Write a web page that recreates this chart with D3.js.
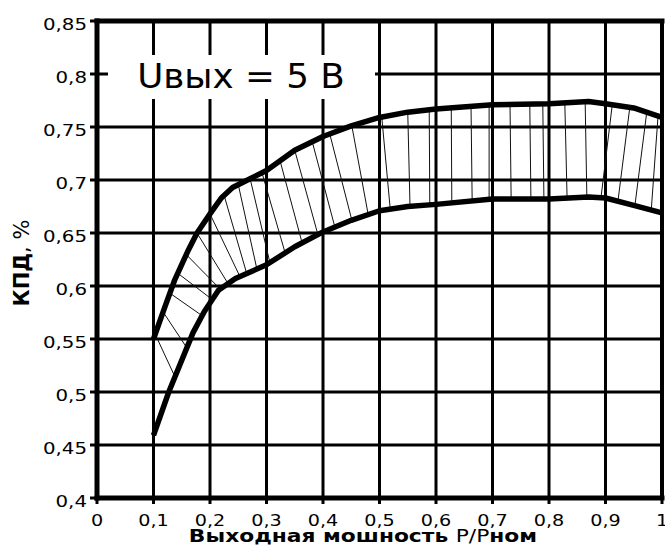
<!DOCTYPE html>
<html>
<head>
<meta charset="utf-8">
<script src="https://cdn.jsdelivr.net/npm/d3@7"></script>
<style>
  body { margin: 0; background: #fff; }
  text { font-family: "DejaVu Sans", Verdana, sans-serif; fill: #000; }
</style>
</head>
<body>
<div id="chart"></div>
<script>
// axis ticks and their labels
const xTicks = [0, 0.1, 0.2, 0.3, 0.4, 0.5, 0.6, 0.7, 0.8, 0.9, 1];
const xTickLabels = ["0", "0,1", "0,2", "0,3", "0,4", "0,5", "0,6", "0,7", "0,8", "0,9", "1"];
const yTicks = [0.4, 0.45, 0.5, 0.55, 0.6, 0.65, 0.7, 0.75, 0.8, 0.85];
const yTickLabels = ["0,4", "0,45", "0,5", "0,55", "0,6", "0,65", "0,7", "0,75", "0,8", "0,85"];

// upper and lower efficiency bounds, [P/Pном, КПД]
const upperCurve = [
  [0.1, 0.55], [0.12, 0.58], [0.137, 0.605], [0.16, 0.632], [0.177, 0.65],
  [0.2, 0.668], [0.22, 0.683], [0.24, 0.693], [0.27, 0.701], [0.3, 0.709],
  [0.35, 0.728], [0.4, 0.741], [0.45, 0.751], [0.5, 0.759], [0.55, 0.764],
  [0.6, 0.767], [0.7, 0.771], [0.8, 0.772], [0.87, 0.774], [0.9, 0.772],
  [0.95, 0.768], [1.0, 0.759]
];
const lowerCurve = [
  [0.1, 0.459], [0.127, 0.5], [0.17, 0.556], [0.19, 0.576], [0.215, 0.596],
  [0.245, 0.607], [0.3, 0.62], [0.35, 0.637], [0.4, 0.651], [0.45, 0.662],
  [0.5, 0.671], [0.55, 0.675], [0.6, 0.677], [0.7, 0.682], [0.8, 0.682],
  [0.87, 0.684], [0.9, 0.683], [0.95, 0.676], [1.0, 0.669]
];

// hatching between the bounds: x on upper curve -> x on lower curve
const hatchTop = [0.103, 0.117, 0.129, 0.143, 0.158, 0.177, 0.2, 0.225, 0.25, 0.271,
  0.292, 0.324, 0.35, 0.381, 0.412, 0.451, 0.504, 0.55, 0.588, 0.627, 0.662,
  0.694, 0.731, 0.766, 0.789, 0.828, 0.864, 0.912, 0.943, 0.973, 0.993];
const hatchBottom = [0.138, 0.159, 0.186, 0.204, 0.218, 0.232, 0.253, 0.265, 0.283, 0.306,
  0.333, 0.363, 0.391, 0.421, 0.451, 0.48, 0.519, 0.554, 0.589, 0.628, 0.664,
  0.694, 0.733, 0.768, 0.791, 0.832, 0.867, 0.892, 0.922, 0.952, 0.981];

const width = 665, height = 546;

const x = d3.scaleLinear().domain([0, 1]).range([97, 662]);
const y = d3.scaleLinear().domain([0.4, 0.85]).range([498, 21]);

const svg = d3.select("#chart")
  .append("svg")
  .attr("width", width)
  .attr("height", height);

// grid
svg.append("g")
  .selectAll("line")
  .data(xTicks.slice(1, -1))
  .join("line")
  .attr("x1", d => x(d)).attr("x2", d => x(d))
  .attr("y1", y(0.4)).attr("y2", y(0.85))
  .attr("stroke", "#000").attr("stroke-width", 3);

svg.append("g")
  .selectAll("line")
  .data(yTicks.slice(1, -1))
  .join("line")
  .attr("x1", x(0)).attr("x2", x(1))
  .attr("y1", d => y(d)).attr("y2", d => y(d))
  .attr("stroke", "#000").attr("stroke-width", 3);

// value of a curve at some x (straight segments between read points)
function valueAt(curve, xv) {
  const i = Math.max(1, Math.min(curve.length - 1, d3.bisector(d => d[0]).left(curve, xv)));
  const a = curve[i - 1], b = curve[i];
  return a[1] + (b[1] - a[1]) * (xv - a[0]) / (b[0] - a[0]);
}

// hatching
svg.append("g")
  .selectAll("line")
  .data(d3.range(hatchTop.length))
  .join("line")
  .attr("x1", i => x(hatchTop[i]))
  .attr("y1", i => y(valueAt(upperCurve, hatchTop[i])))
  .attr("x2", i => x(hatchBottom[i]))
  .attr("y2", i => y(valueAt(lowerCurve, hatchBottom[i])))
  .attr("stroke", "#111").attr("stroke-width", 1);

// curves
const line = d3.line().x(d => x(d[0])).y(d => y(d[1]));

[upperCurve, lowerCurve].forEach(c => {
  svg.append("path")
    .datum(c)
    .attr("fill", "none")
    .attr("stroke", "#000")
    .attr("stroke-width", 5.5)
    .attr("stroke-linejoin", "round")
    .attr("d", line);
});

// label box
svg.append("rect")
  .attr("x", 108).attr("y", 55)
  .attr("width", 267).attr("height", 44)
  .attr("fill", "#fff");

svg.append("text")
  .attr("transform", "translate(241,88) scale(1.05,1)")
  .attr("text-anchor", "middle")
  .attr("font-size", "34px")
  .text("Uвых = 5 В");

// frame
const frame = svg.append("g")
  .attr("stroke", "#000")
  .attr("stroke-linecap", "square");
frame.append("line").attr("x1", x(0)).attr("x2", x(1)).attr("y1", y(0.85)).attr("y2", y(0.85)).attr("stroke-width", 5);
frame.append("line").attr("x1", x(1)).attr("x2", x(1)).attr("y1", y(0.85)).attr("y2", y(0.4)).attr("stroke-width", 4);
frame.append("line").attr("x1", x(0)).attr("x2", x(0)).attr("y1", y(0.85)).attr("y2", y(0.4)).attr("stroke-width", 5);
frame.append("line").attr("x1", x(0)).attr("x2", x(1)).attr("y1", y(0.4)).attr("y2", y(0.4)).attr("stroke-width", 5);

// ticks
svg.append("g")
  .selectAll("line")
  .data(yTicks)
  .join("line")
  .attr("x1", x(0) - 7).attr("x2", x(0))
  .attr("y1", d => y(d)).attr("y2", d => y(d))
  .attr("stroke", "#000").attr("stroke-width", 3);

svg.append("g")
  .selectAll("line")
  .data(xTicks)
  .join("line")
  .attr("x1", d => x(d)).attr("x2", d => x(d))
  .attr("y1", y(0.4)).attr("y2", y(0.4) + 6)
  .attr("stroke", "#000").attr("stroke-width", 3);

// tick labels
svg.append("g")
  .selectAll("text")
  .data(yTicks)
  .join("text")
  .attr("transform", d => `translate(87,${y(d) + 8.5}) scale(1.2,1)`)
  .attr("text-anchor", "end")
  .attr("font-size", "16.5px")
  .text((d, i) => yTickLabels[i]);

svg.append("g")
  .selectAll("text")
  .data(xTicks)
  .join("text")
  .attr("transform", d => `translate(${x(d)},${y(0.4) + 28}) scale(1.2,1)`)
  .attr("text-anchor", "middle")
  .attr("font-size", "16px")
  .text((d, i) => xTickLabels[i]);

// axis titles
const xTitle = svg.append("text")
  .attr("transform", "translate(363,542) scale(1.21,1)")
  .attr("text-anchor", "middle")
  .attr("font-size", "18px");
xTitle.append("tspan").attr("font-weight", "bold").text("Выходная мошность ");
xTitle.append("tspan").text("P/P");
xTitle.append("tspan").attr("font-weight", "bold").text("ном");

const yTitle = svg.append("text")
  .attr("transform", "translate(29,263) rotate(-90)")
  .attr("text-anchor", "middle")
  .attr("font-size", "21px");
yTitle.append("tspan").attr("font-weight", "bold").text("КПД");
yTitle.append("tspan").text(", %");
</script>
</body>
</html>
